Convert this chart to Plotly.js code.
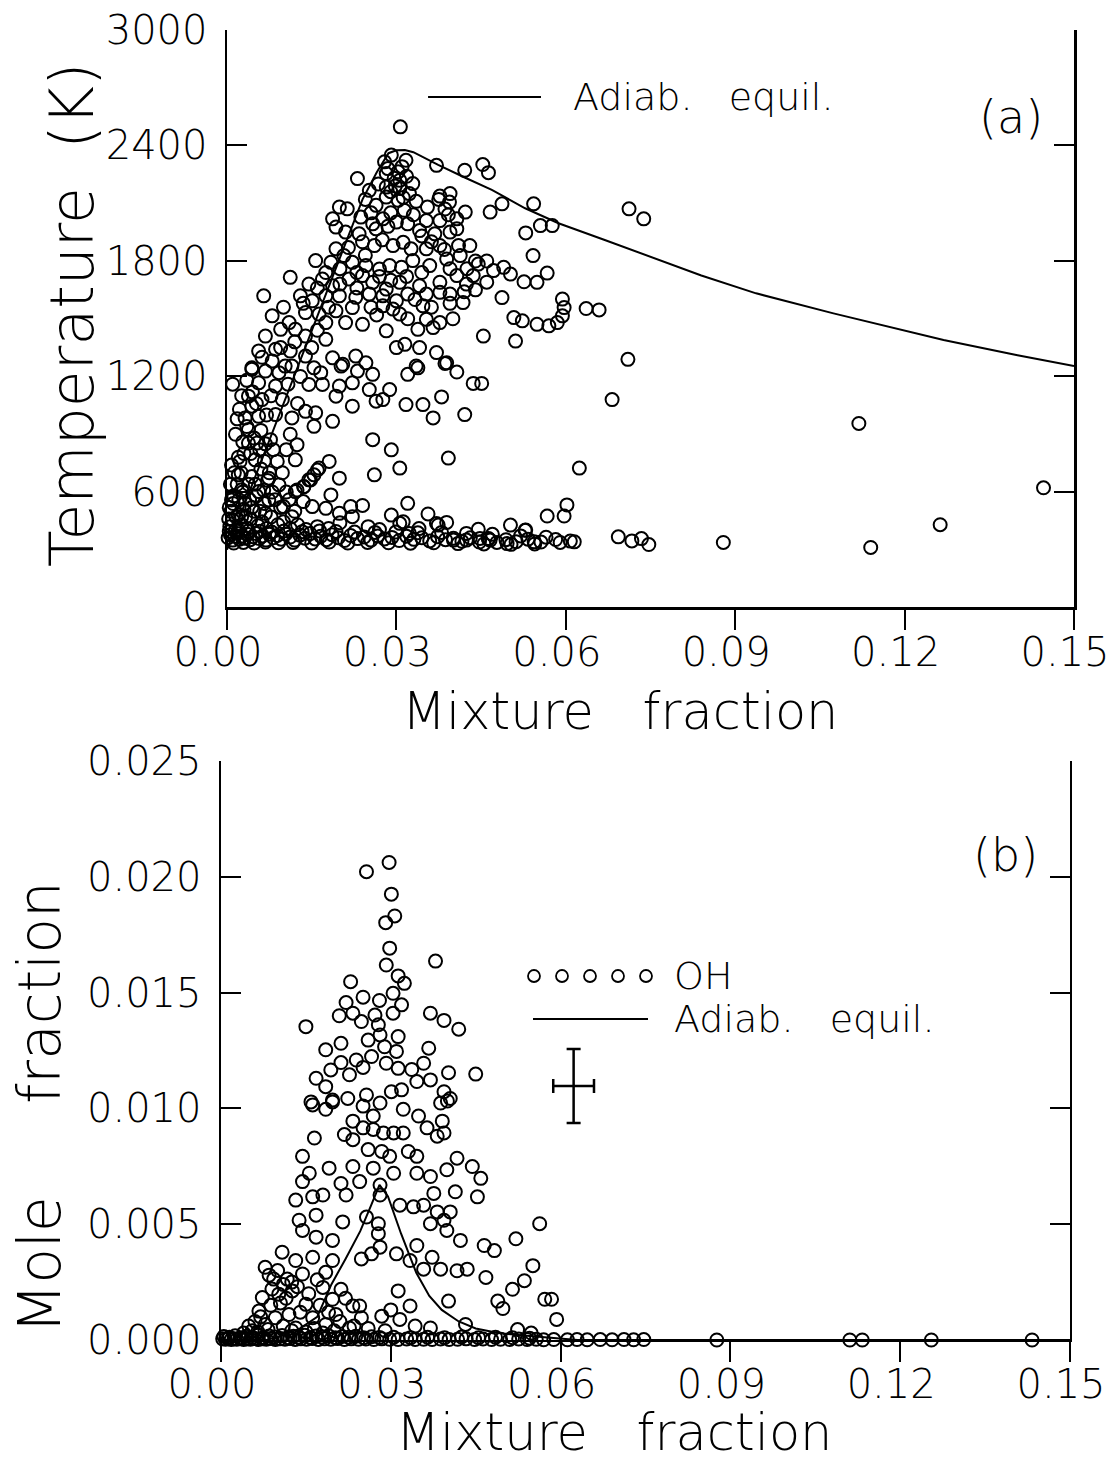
<!DOCTYPE html>
<html><head><meta charset="utf-8">
<script src="https://cdn.plot.ly/plotly-3.0.1.min.js"></script>
<style>html,body{margin:0;padding:0;background:#fff}#chart{width:1115px;height:1466px}</style>
</head><body><div id="chart"></div>
<script>
// ---------- Panel (a): temperature vs mixture fraction ----------
const tempUpper = [[0.0307,2497],[0.0291,2350],[0.0279,2315],[0.0317,2323],[0.0371,2297],[0.0421,2271],[0.0453,2301],[0.0463,2259],[0.0231,2228],[0.0282,2254],[0.0303,2263],[0.0306,2219],[0.0329,2202],[0.0252,2167],[0.0282,2184],[0.0306,2176],[0.0323,2150],[0.0377,2137],[0.0395,2150],[0.0394,2106],[0.0282,2132],[0.0303,2115],[0.0264,2089],[0.0314,2063],[0.0199,2080],[0.0213,2071],[0.0187,2019],[0.0237,2028],[0.0258,1993],[0.0276,2019],[0.0300,2002],[0.0320,1993],[0.0353,2010],[0.0377,2010],[0.0407,2019],[0.0422,2054],[0.0407,1967],[0.0466,2054],[0.0487,2097],[0.0543,2097],[0.0555,1984],[0.0576,1984],[0.0529,1946],[0.0542,1828],[0.0193,1976],[0.0210,1950],[0.0234,1941],[0.0264,1967],[0.0341,1958],[0.0368,1941],[0.0261,1880],[0.0294,1880],[0.0312,1897],[0.0326,1863],[0.0353,1863],[0.0377,1880],[0.0413,1828],[0.0389,1810],[0.0193,1863],[0.0207,1828],[0.0157,1802],[0.0184,1793],[0.0222,1793],[0.0246,1776],[0.0270,1758],[0.0288,1776],[0.0309,1767],[0.0329,1802],[0.0359,1776],[0.0445,1784],[0.0472,1750],[0.0490,1767],[0.0502,1732],[0.0526,1692],[0.0549,1689],[0.0567,1737],[0.0112,1715],[0.0145,1680],[0.0169,1706],[0.0187,1671],[0.0216,1706],[0.0240,1724],[0.0258,1689],[0.0282,1654],[0.0306,1689],[0.0341,1671],[0.0377,1689],[0.0407,1724],[0.0424,1680],[0.0436,1724],[0.0065,1619],[0.0130,1619],[0.0151,1593],[0.0175,1619],[0.0199,1619],[0.0228,1611],[0.0252,1628],[0.0276,1619],[0.0300,1593],[0.0320,1628],[0.0353,1628],[0.0377,1637],[0.0395,1628],[0.0418,1584],[0.0487,1610],[0.0594,1602],[0.0597,1558],[0.0636,1553],[0.0659,1546],[0.0080,1515],[0.0139,1532],[0.0163,1524],[0.0193,1541],[0.0222,1558],[0.0276,1567],[0.0294,1550],[0.0306,1524],[0.0347,1567],[0.0353,1497],[0.0377,1480],[0.0508,1506],[0.0523,1489],[0.0549,1471],[0.0570,1463],[0.0585,1480],[0.0594,1515],[0.0068,1410],[0.0095,1445],[0.0121,1445],[0.0139,1410],[0.0175,1480],[0.0175,1393],[0.0210,1480],[0.0240,1471],[0.0282,1437],[0.0338,1445],[0.0365,1454],[0.0454,1410],[0.0511,1384],[0.0300,1350],[0.0315,1367],[0.0341,1350],[0.0371,1324],[0.0056,1332],[0.0086,1341],[0.0112,1332],[0.0139,1306],[0.0187,1297],[0.0228,1306],[0.0246,1271],[0.0205,1263],[0.0335,1254],[0.0389,1271],[0.0044,1245],[0.0103,1254]];

const tempPeak = [[0.0285,2280],[0.0296,2230],[0.0310,2290],[0.0298,2190],[0.0318,2240],[0.0290,2160],[0.0312,2130],[0.0335,2110],[0.0355,2080],[0.0386,2070],[0.0392,2040],[0.0375,2120],[0.0245,2120],[0.0268,2200],[0.0255,2050],[0.0290,2050],[0.0330,2040],[0.0345,1930],[0.0362,1900],[0.0395,1950],[0.0385,1860],[0.0410,1880],[0.0430,1880],[0.0440,1800],[0.0460,1800],[0.0425,1760],[0.0395,1760],[0.0345,1740],[0.0318,1720],[0.0270,1720],[0.0230,1740],[0.0200,1760],[0.0215,1870],[0.0240,1900],[0.0275,1910],[0.0285,1980],[0.0245,1830],[0.0175,1740],[0.0160,1660],[0.0200,1680],[0.0230,1660],[0.0290,1700],[0.0333,1600],[0.0362,1560],[0.0395,1580],[0.0420,1640],[0.0440,1650],[0.0460,1690],[0.0255,1560],[0.0265,1520],[0.0320,1500],[0.0400,1500]];

const tempLower = [[0.0044,1237],[0.0068,1228],[0.0092,1220],[0.0115,1254],[0.0154,1245],[0.0166,1220],[0.0202,1254],[0.0231,1228],[0.0258,1211],[0.0320,1211],[0.0338,1245],[0.0386,1268],[0.0407,1223],[0.0436,1164],[0.0451,1164],[0.0056,1167],[0.0086,1150],[0.0145,1159],[0.0169,1159],[0.0199,1150],[0.0222,1167],[0.0252,1132],[0.0288,1132],[0.0264,1072],[0.0276,1080],[0.0193,1098],[0.0222,1046],[0.0317,1054],[0.0347,1054],[0.0380,1094],[0.0365,985],[0.0421,1002],[0.0038,1098],[0.0044,1046],[0.0062,1080],[0.0032,985],[0.0056,993],[0.0086,1002],[0.0115,985],[0.0139,1019],[0.0157,1011],[0.0187,967],[0.0154,941],[0.0038,924],[0.0053,854],[0.0038,854],[0.0068,850],[0.0077,872],[0.0124,846],[0.0258,872],[0.0291,819],[0.0392,776],[0.0624,724],[0.0121,767],[0.0089,759],[0.0023,759],[0.0050,767],[0.0181,759],[0.0163,724],[0.0261,689],[0.0306,724],[0.0199,672],[0.0020,689],[0.0044,680],[0.0074,672],[0.0145,663],[0.0154,689],[0.0136,628],[0.0121,602],[0.0092,637],[0.0056,602],[0.0026,611],[0.0184,585],[0.0320,541],[0.0008,559],[0.0032,541],[0.0074,559],[0.0100,524],[0.0151,524],[0.0219,524],[0.0175,515],[0.0356,486],[0.0291,480],[0.0389,442],[0.0374,428],[0.0502,428],[0.0445,406],[0.0529,402],[0.0567,475],[0.0597,475],[0.0602,533],[0.0582,353],[0.0615,341],[0.0544,341],[0.0496,332],[0.0466,350],[0.0448,359],[0.0424,350],[0.0401,350],[0.0222,472],[0.0199,489],[0.0115,472],[0.0068,489],[0.0026,472],[0.0306,437],[0.0323,385],[0.0312,445],[0.0371,436],[0.0463,358],[0.0528,401],[0.0124,610],[0.0136,627],[0.0148,662],[0.0160,714]];

const tempFar = [[0.0712,2071],[0.0738,2019],[0.0710,1289],[0.0682,1080],[0.1119,956],[0.1446,622],[0.1263,430],[0.1140,312],[0.0879,338],[0.0693,367],[0.0717,346],[0.0734,358],[0.0747,327]];

const tempClump = [[0.0005,420],[0.0010,455],[0.0015,400],[0.0020,480],[0.0026,430],[0.0030,510],[0.0036,410],[0.0042,460],[0.0048,500],[0.0055,425],[0.0062,445],[0.0070,410],[0.0078,470],[0.0090,430],[0.0100,445],[0.0112,410],[0.0125,430],[0.0140,405],[0.0160,420],[0.0180,410],[0.0200,440],[0.0004,520],[0.0012,580],[0.0018,640],[0.0025,700],[0.0008,740],[0.0040,560],[0.0050,640],[0.0065,610],[0.0085,560],[0.0060,720],[0.0105,600],[0.0030,800],[0.0015,900],[0.0060,920],[0.0022,1030],[0.0010,1160],[0.0035,1180],[0.0250,420],[0.0270,405],[0.0340,410],[0.0240,530]];

const tempClump2 = [[0.0003,460],[0.0007,500],[0.0011,540],[0.0016,470],[0.0021,560],[0.0028,600],[0.0033,470],[0.0038,640],[0.0044,520],[0.0052,580],[0.0058,500],[0.0066,540],[0.0072,660],[0.0080,600],[0.0095,520],[0.0110,560],[0.0120,500],[0.0135,550],[0.0006,640],[0.0013,700],[0.0020,780],[0.0028,860],[0.0035,940],[0.0042,800],[0.0048,880],[0.0058,820],[0.0066,760],[0.0075,700],[0.0082,820],[0.0098,700],[0.0105,820],[0.0112,900],[0.0018,980],[0.0026,1100],[0.0045,1120],[0.0052,1060],[0.0070,1000],[0.0078,1100],[0.0098,1080],[0.0108,1160],[0.0125,1060],[0.0130,1200],[0.0062,1300],[0.0080,1280],[0.0095,1350],[0.0120,1380],[0.0150,1350],[0.0160,1440],[0.0180,1560],[0.0110,1480],[0.0135,1580],[0.0100,1560]];

const tempBand = [[0.0002,362],[0.0006,378],[0.0010,350],[0.0014,370],[0.0018,385],[0.0022,355],[0.0027,372],[0.0031,360],[0.0036,380],[0.0041,352],[0.0046,368],[0.0052,384],[0.0057,358],[0.0063,372],[0.0069,350],[0.0075,380],[0.0082,362],[0.0089,374],[0.0096,355],[0.0104,382],[0.0112,366],[0.0120,350],[0.0129,376],[0.0138,360],[0.0147,384],[0.0156,356],[0.0166,370],[0.0176,352],[0.0186,378],[0.0197,362],[0.0208,348],[0.0219,374],[0.0231,358],[0.0243,366],[0.0255,350],[0.0267,372],[0.0279,356],[0.0292,364],[0.0305,348],[0.0318,370],[0.0331,354],[0.0345,362],[0.0359,346],[0.0373,368],[0.0387,352],[0.0401,360],[0.0416,344],[0.0431,362],[0.0447,340],[0.0463,356],[0.0478,338],[0.0494,352],[0.0512,342],[0.0533,355],[0.0556,340],[0.0590,338],[0.0608,345]];

const tempBand2 = [[0.0004,395],[0.0012,335],[0.0020,400],[0.0029,338],[0.0038,398],[0.0048,335],[0.0058,396],[0.0068,340],[0.0079,392],[0.0091,336],[0.0101,398],[0.0117,338],[0.0133,394],[0.0150,335],[0.0164,398],[0.0181,340],[0.0193,395],[0.0214,335],[0.0226,392],[0.0249,338],[0.0262,390],[0.0286,336],[0.0299,392],[0.0325,334],[0.0338,388],[0.0366,336],[0.0380,390],[0.0409,332],[0.0424,385],[0.0455,330],[0.0470,380],[0.0503,328],[0.0520,372],[0.0545,330],[0.0565,365]];

// Adiabatic equilibrium temperature
const eqZ = [0, 0.005, 0.010, 0.015, 0.020, 0.024, 0.0265, 0.0286, 0.0300, 0.0315, 0.0330, 0.0374, 0.0420, 0.0469, 0.0528, 0.0587, 0.0669, 0.0749, 0.0840, 0.0937, 0.1074, 0.1269, 0.1400, 0.1500];
const eqT = [300, 680, 1060, 1440, 1820, 2120, 2260, 2360, 2375, 2377, 2365, 2299, 2235, 2169, 2074, 1996, 1909, 1822, 1725, 1632, 1528, 1390, 1310, 1255];

// ---------- Panel (b): OH mole fraction vs mixture fraction ----------
const ohUpper = [[0.0297,0.02062],[0.0257,0.02022],[0.0301,0.01925],[0.0307,0.01831],[0.0291,0.01802],[0.0298,0.01692],[0.0292,0.01619],[0.0379,0.01636],[0.0313,0.01572],[0.0324,0.01540],[0.0229,0.01547],[0.0304,0.01497],[0.0251,0.01480],[0.0221,0.01457],[0.0280,0.01466],[0.0319,0.01447],[0.0304,0.01411],[0.0209,0.01400],[0.0233,0.01411],[0.0248,0.01375],[0.0272,0.01403],[0.0370,0.01411],[0.0394,0.01380],[0.0420,0.01342],[0.0150,0.01353],[0.0278,0.01361],[0.0260,0.01295],[0.0313,0.01310],[0.0281,0.01317],[0.0212,0.01281],[0.0185,0.01253],[0.0289,0.01266],[0.0367,0.01260],[0.0266,0.01224],[0.0239,0.01209],[0.0212,0.01198],[0.0310,0.01246],[0.0292,0.01195],[0.0251,0.01177],[0.0313,0.01173],[0.0337,0.01168],[0.0358,0.01195],[0.0402,0.01154],[0.0450,0.01148],[0.0194,0.01166],[0.0168,0.01130],[0.0227,0.01145],[0.0346,0.01116],[0.0370,0.01123],[0.0185,0.01094],[0.0301,0.01072],[0.0319,0.01080],[0.0394,0.01072],[0.0405,0.01043],[0.0162,0.01015],[0.0197,0.01036],[0.0224,0.01043],[0.0257,0.01058],[0.0281,0.01023],[0.0388,0.01023]];

const ohMiddle = [[0.0159,0.01028],[0.0185,0.00996],[0.0197,0.01028],[0.0251,0.01010],[0.0269,0.00967],[0.0322,0.00996],[0.0349,0.00967],[0.0391,0.00945],[0.0400,0.01032],[0.0233,0.00945],[0.0218,0.00887],[0.0233,0.00865],[0.0251,0.00916],[0.0269,0.00909],[0.0287,0.00894],[0.0305,0.00894],[0.0322,0.00894],[0.0364,0.00916],[0.0382,0.00880],[0.0394,0.00894],[0.0165,0.00872],[0.0260,0.00822],[0.0284,0.00814],[0.0331,0.00814],[0.0346,0.00793],[0.0144,0.00793],[0.0298,0.00793],[0.0417,0.00785],[0.0444,0.00749],[0.0459,0.00698],[0.0191,0.00742],[0.0233,0.00749],[0.0269,0.00742],[0.0305,0.00720],[0.0346,0.00720],[0.0370,0.00706],[0.0399,0.00735],[0.0156,0.00720],[0.0144,0.00684],[0.0212,0.00676],[0.0245,0.00684],[0.0281,0.00669],[0.0376,0.00633],[0.0414,0.00640],[0.0453,0.00618],[0.0132,0.00604],[0.0162,0.00618],[0.0180,0.00626],[0.0221,0.00626],[0.0281,0.00626],[0.0316,0.00582],[0.0340,0.00575],[0.0358,0.00582],[0.0382,0.00553],[0.0405,0.00553],[0.0138,0.00517],[0.0168,0.00539],[0.0215,0.00510],[0.0257,0.00531],[0.0278,0.00502],[0.0370,0.00502],[0.0394,0.00517],[0.0399,0.00473],[0.0423,0.00430],[0.0465,0.00408],[0.0483,0.00386],[0.0521,0.00437],[0.0563,0.00502],[0.0144,0.00473],[0.0168,0.00444],[0.0197,0.00430],[0.0278,0.00459],[0.0346,0.00408],[0.0310,0.00372],[0.0281,0.00401],[0.0266,0.00372],[0.0248,0.00350],[0.0108,0.00379],[0.0078,0.00314],[0.0132,0.00343],[0.0162,0.00357],[0.0197,0.00343],[0.0334,0.00343],[0.0373,0.00357],[0.0388,0.00306],[0.0417,0.00299],[0.0435,0.00306],[0.0358,0.00306],[0.0468,0.00270],[0.0551,0.00321],[0.0093,0.00263],[0.0117,0.00263],[0.0144,0.00285],[0.0185,0.00292],[0.0212,0.00219],[0.0536,0.00256],[0.0515,0.00219],[0.0572,0.00176],[0.0584,0.00176],[0.0313,0.00212],[0.0334,0.00147],[0.0402,0.00168],[0.0489,0.00168],[0.0498,0.00136],[0.0073,0.00183],[0.0102,0.00198],[0.0126,0.00212],[0.0150,0.00154],[0.0180,0.00227],[0.0197,0.00176],[0.0233,0.00147],[0.0245,0.00147],[0.0067,0.00125],[0.0096,0.00096],[0.0120,0.00110],[0.0162,0.00096],[0.0203,0.00110],[0.0248,0.00096],[0.0284,0.00103],[0.0316,0.00089],[0.0343,0.00060],[0.0593,0.00089],[0.0432,0.00067],[0.0524,0.00045],[0.0049,0.00060],[0.0078,0.00067],[0.0132,0.00052],[0.0185,0.00067],[0.0227,0.00052],[0.0370,0.00052],[0.0548,0.00030]];

const ohLow = [[0.0085,0.00280],[0.0100,0.00300],[0.0110,0.00240],[0.0125,0.00250],[0.0135,0.00230],[0.0090,0.00220],[0.0105,0.00160],[0.0115,0.00180],[0.0088,0.00150],[0.0070,0.00100],[0.0060,0.00080],[0.0140,0.00120],[0.0155,0.00200],[0.0170,0.00260],[0.0175,0.00150],[0.0190,0.00120],[0.0210,0.00080],[0.0220,0.00180],[0.0235,0.00060],[0.0260,0.00050],[0.0290,0.00040],[0.0300,0.00130],[0.0040,0.00030],[0.0055,0.00040],[0.0065,0.00035],[0.0083,0.00045],[0.0110,0.00060],[0.0125,0.00040],[0.0150,0.00035],[0.0165,0.00050],[0.0180,0.00030],[0.0200,0.00040]];

const ohZero = [[0.0003,0.00005],[0.0008,0.00003],[0.0013,0.00006],[0.0018,0.00002],[0.0023,0.00005],[0.0028,0.00003],[0.0034,0.00006],[0.0040,0.00002],[0.0046,0.00005],[0.0052,0.00003],[0.0059,0.00006],[0.0066,0.00002],[0.0073,0.00005],[0.0080,0.00003],[0.0088,0.00006],[0.0096,0.00002],[0.0104,0.00005],[0.0113,0.00003],[0.0122,0.00006],[0.0131,0.00002],[0.0141,0.00005],[0.0151,0.00003],[0.0161,0.00006],[0.0172,0.00002],[0.0183,0.00005],[0.0194,0.00003],[0.0206,0.00006],[0.0218,0.00002],[0.0230,0.00005],[0.0243,0.00003],[0.0256,0.00004],[0.0270,0.00002],[0.0284,0.00005],[0.0298,0.00003],[0.0313,0.00002],[0.0328,0.00004],[0.0343,0.00002],[0.0358,0.00003],[0.0373,0.00002],[0.0388,0.00004],[0.0403,0.00002],[0.0418,0.00003],[0.0433,0.00005],[0.0448,0.00002],[0.0463,0.00004],[0.0478,0.00002],[0.0494,0.00003],[0.0510,0.00002],[0.0526,0.00004],[0.0541,0.00002],[0.0557,0.00003],[0.0570,0.00001],[0.0588,0.00002],[0.0612,0.00001],[0.0629,0.00002],[0.0647,0.00001],[0.0670,0.00002],[0.0691,0.00001],[0.0712,0.00002],[0.0729,0.00001],[0.0747,0.00002],[0.0876,0.0],[0.1111,0.0],[0.1133,0.0],[0.1255,0.0],[0.1433,0.0]];

const ohZero2 = [[0.0005,0.00015],[0.0015,0.00012],[0.0025,0.00018],[0.0035,0.00010],[0.0045,0.00016],[0.0055,0.00012],[0.0065,0.00020],[0.0075,0.00011],[0.0085,0.00017],[0.0095,0.00013],[0.0108,0.00019],[0.0118,0.00010],[0.0128,0.00016],[0.0138,0.00012],[0.0148,0.00020],[0.0158,0.00011],[0.0168,0.00017],[0.0178,0.00013],[0.0190,0.00018],[0.0202,0.00010],[0.0214,0.00015],[0.0226,0.00012],[0.0238,0.00016],[0.0252,0.00010],[0.0266,0.00014],[0.0280,0.00011],[0.0305,0.00012],[0.0335,0.00010],[0.0365,0.00012],[0.0395,0.00010],[0.0425,0.00013],[0.0455,0.00010],[0.0485,0.00012],[0.0515,0.00010],[0.0545,0.00008]];

// Adiabatic equilibrium OH
const ohEqZ = [0, 0.008, 0.011, 0.014, 0.017, 0.0195, 0.022, 0.0246, 0.0265, 0.0280, 0.0295, 0.0310, 0.0318, 0.0345, 0.0368, 0.0390, 0.0420, 0.0450, 0.0490, 0.0530, 0.0580, 0.0630, 0.1500];
const ohEqX = [0, 0, 0.0002, 0.0005, 0.0010, 0.0024, 0.0035, 0.0047, 0.0058, 0.0067, 0.0062, 0.0051, 0.0046, 0.0029, 0.0019, 0.0013, 0.0008, 0.0005, 0.0003, 0.0002, 0.0001, 0, 0];

// Representative uncertainty (error cross)
const errCenter = [0.0623, 0.01097];
const errHalf = [0.0036, 0.0016];

// Tick labels
const xTicks = [0, 0.03, 0.06, 0.09, 0.12, 0.15];
const xTickText = ['0.00', '0.03', '0.06', '0.09', '0.12', '0.15'];
const tTicks = [0, 600, 1200, 1800, 2400, 3000];
const ohTicks = [0, 0.005, 0.010, 0.015, 0.020, 0.025];
const ohTickText = ['0.000', '0.005', '0.010', '0.015', '0.020', '0.025'];

// ---------- build ----------
const xs = a => a.map(p => p[0]);
const ys = a => a.map(p => p[1]);
const tempAll = [].concat(tempUpper, tempPeak, tempLower, tempFar, tempClump, tempClump2, tempBand, tempBand2);
const ohAll = [].concat(ohUpper, ohMiddle, ohLow, ohZero, ohZero2);

const FONT = '"DejaVu Sans ExtraLight", "DejaVu Sans", sans-serif';
const W = 200;
const K = '#000';
const markerStyle = {symbol: 'circle-open', size: 13, color: K, line: {color: K, width: 2}};

const traces = [
  {type: 'scatter', mode: 'markers', x: xs(tempAll), y: ys(tempAll), xaxis: 'x', yaxis: 'y',
   marker: markerStyle, cliponaxis: false, showlegend: false, hoverinfo: 'skip'},
  {type: 'scatter', mode: 'lines', x: eqZ, y: eqT, xaxis: 'x', yaxis: 'y',
   line: {color: K, width: 2}, showlegend: false, hoverinfo: 'skip'},
  {type: 'scatter', mode: 'markers', x: xs(ohAll), y: ys(ohAll), xaxis: 'x2', yaxis: 'y2',
   marker: markerStyle, cliponaxis: false, showlegend: false, hoverinfo: 'skip'},
  {type: 'scatter', mode: 'lines', x: ohEqZ, y: ohEqX, xaxis: 'x2', yaxis: 'y2',
   line: {color: K, width: 2}, showlegend: false, hoverinfo: 'skip'},
  {type: 'scatter', mode: 'markers', x: [errCenter[0]], y: [errCenter[1]], xaxis: 'x2', yaxis: 'y2',
   marker: {size: 1, color: K},
   error_x: {type: 'data', array: [errHalf[0]], color: K, thickness: 2.5, width: 7},
   error_y: {type: 'data', array: [errHalf[1]], color: K, thickness: 2.5, width: 7},
   showlegend: false, hoverinfo: 'skip'}
];

const tickFont = {family: FONT, size: 40, color: K, weight: W};

function xAxis(domain, anchor) {
  return {domain, anchor, range: [0, 0.15], tickvals: xTicks, ticktext: xTickText,
    ticks: 'outside', ticklen: 20, tickwidth: 2, tickcolor: K,
    showline: true, linewidth: 2.5, linecolor: K, mirror: false,
    showgrid: false, zeroline: false, tickfont: tickFont, ticklabelstandoff: -12,
    ticklabelshift: -9, ticklabeloverflow: 'allow', automargin: false, fixedrange: true};
}
function xTop(domain, anchor, overlay) {
  return {domain, anchor, overlaying: overlay, side: 'top', range: [0, 0.15], tickvals: xTicks,
    ticks: 'inside', ticklen: 20, tickwidth: 2, tickcolor: K, showticklabels: false,
    showline: true, linewidth: 2.5, linecolor: K, showgrid: false, zeroline: false, fixedrange: true};
}
function yAxis(domain, anchor, range, vals, text) {
  const a = {domain, anchor, range, tickvals: vals,
    ticks: 'inside', ticklen: 20, tickwidth: 2, tickcolor: K,
    showline: true, linewidth: 2.5, linecolor: K, mirror: 'ticks',
    showgrid: false, zeroline: false, tickfont: tickFont, ticklabelstandoff: 9,
    ticklabeloverflow: 'allow', automargin: false, fixedrange: true};
  if (text) a.ticktext = text;
  return a;
}

const topX = [0.20359, 0.96323], topY = [0.58561, 0.97954];
const botX = [0.19821, 0.95964], botY = [0.08595, 0.48090];

const legFont = {family: FONT, size: 38, color: K, weight: W};
const xTitleFont = {family: FONT, size: 51, color: K, weight: W};
const tagFont = {family: FONT, size: 46, color: K, weight: W};
const legendCircleX = [0.47892, 0.50404, 0.52915, 0.55426, 0.57937];
const NB = '\u00a0';

const shapes = [
  {type: 'line', xref: 'paper', yref: 'paper', x0: 0.3839, x1: 0.4852, y0: 0.93383, y1: 0.93383, line: {color: K, width: 2}},
  {type: 'line', xref: 'paper', yref: 'paper', x0: 0.47803, x1: 0.58117, y0: 0.30491, y1: 0.30491, line: {color: K, width: 2}}
].concat(legendCircleX.map(cx => ({
  type: 'circle', xref: 'paper', yref: 'paper', xsizemode: 'pixel', ysizemode: 'pixel',
  xanchor: cx, yanchor: 0.33424, x0: -6, x1: 6, y0: -6, y1: 6, line: {color: K, width: 1.8}
})));

const ann = (x, y, text, font, extra) => Object.assign({xref: 'paper', yref: 'paper', x, y, text, font,
  showarrow: false, xanchor: 'center', yanchor: 'middle'}, extra || {});

const annotations = [
  ann(0.5121, 0.93383, 'Adiab.' + NB + NB + NB + 'equil.', legFont, {xanchor: 'left'}),
  ann(0.9067, 0.9202, '(a)', tagFont),
  ann(0.9022, 0.4168, '(b)', tagFont),
  ann(0.60269, 0.33424, 'OH', legFont, {xanchor: 'left'}),
  ann(0.60269, 0.30491, 'Adiab.' + NB + NB + NB + 'equil.', legFont, {xanchor: 'left'}),
  // axis titles
  ann(0.5561, 0.5150, 'Mixture' + NB + NB + NB + 'fraction', xTitleFont),
  ann(0.5507, 0.0012, 'Mixture' + NB + NB + NB + 'fraction', xTitleFont, {yanchor: 'bottom'}),
  ann(0.0646, 0.7851, 'Temperature' + NB + NB + '(K)', {family: FONT, size: 60, color: K, weight: W}, {textangle: -90}),
  ann(0.0359, 0.2445, 'Mole' + NB + NB + NB + NB + NB + 'fraction', {family: FONT, size: 58, color: K, weight: W}, {textangle: -90})
];

const layout = {
  width: 1115, height: 1466, margin: {l: 0, r: 0, t: 0, b: 0},
  paper_bgcolor: '#fff', plot_bgcolor: 'rgba(0,0,0,0)', showlegend: false,
  font: {family: FONT, color: K},
  xaxis: xAxis(topX, 'y'),
  yaxis: yAxis(topY, 'x', [0, 3000], tTicks, null),
  xaxis3: xTop(topX, 'y', 'x'),
  xaxis2: xAxis(botX, 'y2'),
  yaxis2: yAxis(botY, 'x2', [0, 0.025], ohTicks, ohTickText),
  xaxis4: xTop(botX, 'y2', 'x2'),
  shapes, annotations
};

Plotly.newPlot('chart', traces, layout, {displayModeBar: false, staticPlot: true});
</script></body></html>
